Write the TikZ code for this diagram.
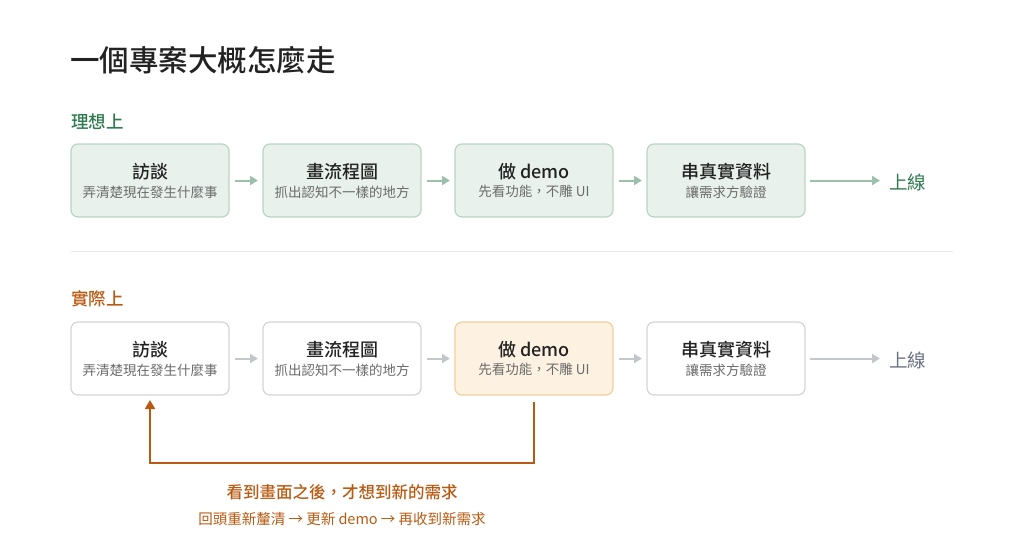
\documentclass[tikz,border=0pt]{standalone}
\usepackage{fontspec}
\setmainfont{Noto Sans CJK TC}[BoldFont={Noto Sans CJK TC Medium}]
\usepackage{tikz}
\usetikzlibrary{positioning,arrows.meta}

\definecolor{inkdark}{HTML}{222222}
\definecolor{inkgray}{HTML}{6B6B6B}
\definecolor{idealgreen}{HTML}{2F7A4F}
\definecolor{idealfill}{HTML}{E8F1EC}
\definecolor{idealline}{HTML}{B9D5C4}
\definecolor{idealarrow}{HTML}{9CC0AA}
\definecolor{realorange}{HTML}{B85A12}
\definecolor{realline}{HTML}{D2D5DA}
\definecolor{realarrow}{HTML}{C3C7CC}
\definecolor{demofill}{HTML}{FDF2E1}
\definecolor{demoline}{HTML}{F0CF9D}
\definecolor{donegray}{HTML}{6B7280}
\definecolor{rulegray}{HTML}{E6E6E6}

\newcommand{\steptext}[2]{{\bfseries\fontsize{18}{22}\selectfont\color{inkdark}#1}\\[5pt]{\fontsize{13.5}{17}\selectfont\color{inkgray}#2}}

\tikzset{
    stepbox/.style={rectangle,rounded corners=7pt,line width=1.2pt,outer sep=0pt,
        minimum width=158pt,minimum height=73pt,align=center,inner sep=0pt},
    idealbox/.style={stepbox,draw=idealline,fill=idealfill},
    realbox/.style={stepbox,draw=realline,fill=white},
    demobox/.style={stepbox,draw=demoline,fill=demofill},
    flow/.style={-{Triangle[length=8pt,width=9pt]},line width=2pt,
        shorten <=6pt,shorten >=5pt},
    rowlabel/.style={anchor=west,inner sep=0pt,font=\bfseries\fontsize{17.5}{20}\selectfont},
}

\begin{document}
\begin{tikzpicture}[x=1pt,y=-1pt]
    \useasboundingbox (0,0) rectangle (1024,538);

    % title
    \node[anchor=west,inner sep=0pt,text=inkdark,font=\bfseries\fontsize{29.5}{34}\selectfont]
        (title) at (70,60) {一個專案大概怎麼走};

    % ideal row
    \node[rowlabel,text=idealgreen] (ideal) at (71,122) {理想上};
    \node[idealbox] (a1) at (150,180.5) {\steptext{訪談}{弄清楚現在發生什麼事}};
    \node[idealbox,right=34pt of a1] (a2) {\steptext{畫流程圖}{抓出認知不一樣的地方}};
    \node[idealbox,right=34pt of a2] (a3) {\steptext{做 demo}{先看功能，不雕 UI}};
    \node[idealbox,right=34pt of a3] (a4) {\steptext{串真實資料}{讓需求方驗證}};
    \node[anchor=west,inner sep=0pt,text=idealgreen,font=\fontsize{18.5}{22}\selectfont]
        (adone) at (889,182) {上線};
    \draw[flow,idealarrow] (a1) -- (a2);
    \draw[flow,idealarrow] (a2) -- (a3);
    \draw[flow,idealarrow] (a3) -- (a4);
    \draw[flow,idealarrow,shorten <=5pt,shorten >=9pt] (a4.east) -- (a4.east -| adone.west);

    % separator
    \coordinate (sepl) at (71,251);
    \coordinate (sepr) at (953,251);
    \draw[rulegray,line width=1pt] (sepl) -- (sepr);

    % real row
    \node[rowlabel,text=realorange] (real) at (71,299) {實際上};
    \node[realbox] (b1) at (150,358.5) {\steptext{訪談}{弄清楚現在發生什麼事}};
    \node[realbox,right=34pt of b1] (b2) {\steptext{畫流程圖}{抓出認知不一樣的地方}};
    \node[demobox,right=34pt of b2] (b3) {\steptext{做 demo}{先看功能，不雕 UI}};
    \node[realbox,right=34pt of b3] (b4) {\steptext{串真實資料}{讓需求方驗證}};
    \node[anchor=west,inner sep=0pt,text=donegray,font=\fontsize{18.5}{22}\selectfont]
        (bdone) at (889,360) {上線};
    \draw[flow,realarrow] (b1) -- (b2);
    \draw[flow,realarrow] (b2) -- (b3);
    \draw[flow,realarrow] (b3) -- (b4);
    \draw[flow,realarrow,shorten <=5pt,shorten >=9pt] (b4.east) -- (b4.east -| bdone.west);

    % loop back
    \draw[realorange,line width=2pt,-{Triangle[length=9pt,width=10pt]},
        shorten <=7pt,shorten >=5pt] (b3.south) -- ++(0,68) -| (b1.south);
    \node[text=realorange,font=\bfseries\fontsize{16.5}{20}\selectfont]
        (why) at (342,492) {看到畫面之後，才想到新的需求};
    \node[text=realorange,font=\fontsize{14.5}{18}\selectfont]
        (how) at (342,519) {回頭重新釐清 → 更新 demo → 再收到新需求};
\end{tikzpicture}
\end{document}
